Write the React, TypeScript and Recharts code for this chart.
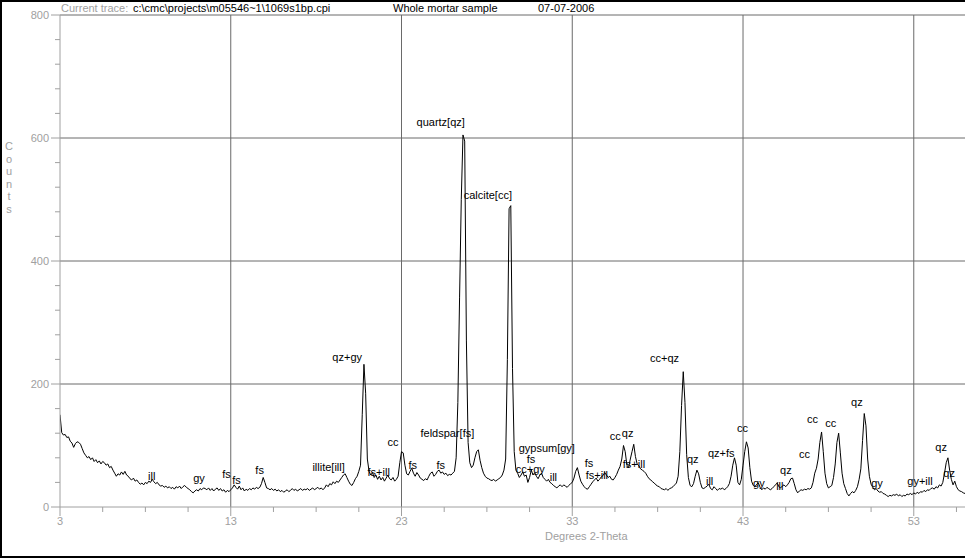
import React from 'react';
import { ComposedChart, Line, Scatter, XAxis, YAxis, ReferenceLine } from 'recharts';

// Diffraction trace, 0.1 degree steps, counts
const segmentStarts = [3, 13, 23, 33, 43];

const counts3to13 = [
  150, 121, 117, 118, 113, 114, 107, 104, 97, 103,
  106, 105, 102, 95, 88, 84, 80, 82, 77, 80,
  74, 77, 72, 75, 70, 74, 72, 68, 70, 64,
  66, 60, 55, 50, 54, 52, 57, 53, 58, 52,
  50, 46, 44, 47, 42, 44, 40, 37, 39, 36,
  40, 38, 42, 40, 45, 41, 38, 40, 36, 34,
  35, 32, 34, 31, 33, 30, 32, 29, 33, 31,
  34, 30, 33, 35, 32, 30, 28, 25, 23, 26,
  28, 26, 30, 28, 31, 30, 28, 31, 27, 30,
  26, 29, 31, 27, 30, 26, 28, 24, 27, 25,
];

const counts13to23 = [
  28, 31, 36, 32, 29, 34, 28, 31, 26, 29,
  27, 30, 28, 31, 29, 32, 30, 32, 38, 48,
  40, 31, 30, 28, 30, 27, 29, 26, 28, 25,
  27, 24, 26, 28, 25, 27, 30, 27, 29, 26,
  28, 30, 27, 29, 28, 30, 27, 29, 31, 28,
  30, 32, 29, 31, 28, 31, 36, 33, 38, 36,
  41, 38, 42, 40, 44, 48, 52, 54, 48, 42,
  37, 35, 40, 46, 50, 58, 68, 150, 232, 185,
  78, 58, 52, 56, 48, 52, 45, 50, 44, 48,
  42, 47, 52, 46, 44, 48, 42, 45, 50, 72,
];

const counts23to33 = [
  90, 88, 68, 54, 52, 58, 63, 55, 50, 56,
  52, 47, 45, 43, 46, 44, 50, 55, 57, 50,
  53, 58, 60, 55, 57, 53, 55, 51, 53, 52,
  55, 58, 80, 170, 340, 500, 605, 595, 270, 105,
  72, 64, 68, 80, 90, 93, 76, 64, 55, 50,
  47, 46, 44, 43, 45, 42, 44, 46, 48, 52,
  60, 78, 240, 485, 490, 225, 90, 60, 55, 48,
  52, 57, 50, 52, 40, 48, 60, 52, 56, 50,
  46, 52, 55, 48, 45, 42, 45, 40, 38, 35,
  33, 31, 34, 36, 33, 36, 34, 32, 35, 38,
];

const counts33to43 = [
  40, 47, 58, 64, 52, 42, 37, 33, 30, 29,
  33, 37, 41, 44, 47, 42, 45, 49, 51, 56,
  52, 48, 50, 45, 44, 48, 53, 60, 66, 78,
  100, 90, 68, 64, 78, 90, 102, 82, 70, 67,
  62, 60, 58, 55, 50, 46, 44, 41, 39, 36,
  34, 33, 30, 29, 28, 30, 27, 30, 31, 33,
  36, 39, 50, 90, 165, 220, 170, 85, 48, 35,
  33, 38, 50, 60, 54, 40, 31, 30, 32, 34,
  37, 30, 28, 33, 30, 27, 30, 29, 31, 28,
  30, 33, 38, 50, 68, 80, 68, 40, 36, 45,
];

const counts43to56 = [
  68, 90, 106, 96, 64, 42, 35, 33, 37, 39,
  32, 28, 31, 29, 32, 30, 28, 30, 33, 36,
  39, 33, 31, 34, 36, 33, 36, 40, 46, 47,
  38, 28, 23, 26, 28, 27, 29, 28, 30, 29,
  31, 40, 55, 63, 78, 105, 122, 90, 55, 38,
  31, 33, 35, 48, 70, 105, 120, 88, 55, 38,
  30, 22, 18, 22, 25, 23, 27, 33, 45, 62,
  108, 152, 132, 78, 50, 37, 32, 28, 30, 26,
  24, 25, 22, 21, 19, 17, 19, 18, 20, 19,
  21, 18, 20, 17, 19, 18, 21, 20, 22, 20,
  23, 21, 24, 22, 25, 24, 27, 25, 28, 27,
  30, 31, 29, 33, 31, 36, 34, 40, 55, 72,
  80, 60, 45, 36, 42, 33, 28, 26, 25, 23,
  22,
];

const segments = [counts3to13, counts13to23, counts23to33, counts33to43, counts43to56];

// Peak annotations
const peakLabelTexts = [
  'ill', 'gy', 'fs', 'fs', 'fs', 'illite[ill]', 'fs+ill', 'qz+gy', 'cc', 'fs',
  'fs', 'quartz[qz]', 'calcite[cc]', 'feldspar[fs]', 'gypsum[gy]', 'fs', 'cc+gy', 'ill', 'fs', 'fs+ill',
  'cc', 'qz', 'fs+ill', 'cc+qz', 'qz', 'ill', 'qz+fs', 'cc', 'gy', 'ill',
  'qz', 'cc', 'cc', 'cc', 'qz', 'gy', 'gy+ill', 'qz', 'qz',
];
const peakLabelAngles = [
  8.16, 10.8, 12.5, 13.09, 14.44, 17.78, 21.01, 18.95, 22.18, 23.41,
  25.05, 23.88, 26.64, 24.11, 29.86, 30.33, 29.69, 31.68, 33.73, 33.79,
  35.2, 35.9, 35.96, 37.55, 39.72, 40.83, 40.95, 42.65, 43.59, 44.94,
  45.17, 46.28, 46.75, 47.81, 49.33, 50.51, 52.62, 54.26, 54.73,
];
const peakLabelCounts = [
  44, 41, 47, 37, 54, 59, 50, 237, 99, 62,
  62, 620, 501, 114, 90, 71, 55, 42, 65, 45,
  109, 114, 63, 236, 72, 36, 81, 122, 33, 28,
  54, 80, 137, 130, 164, 33, 36, 91, 49,
];

const xTickValues = [3, 5.5, 8, 10.5, 13, 15.5, 18, 20.5, 23, 25.5, 28, 30.5, 33, 35.5, 38, 40.5, 43, 45.5, 48, 50.5, 53, 55.5];
const xMajorTicks = [3, 13, 23, 33, 43, 53];
const yTickValues = [0, 40, 80, 120, 160, 200, 240, 280, 320, 360, 400, 440, 480, 520, 560, 600, 640, 680, 720, 760, 800];
const yGridValues = [200, 400, 600, 800];
const xGridValues = [13, 23, 33, 43, 53];

const trace: { x: number; y: number }[] = [];
segments.forEach((seg, s) => {
  seg.forEach((c, i) => {
    trace.push({ x: Math.round((segmentStarts[s] + i * 0.1) * 10) / 10, y: c });
  });
});

const peakLabels = peakLabelTexts.map((t, i) => ({ x: peakLabelAngles[i], y: peakLabelCounts[i], text: t }));

const FONT = "'Liberation Sans', Arial, sans-serif";
const AXIS_GRAY = '#a0a0a0';
const GRID_GRAY = '#6a6a6a';

const XTick = (props: any) => {
  const { x, y, payload } = props;
  const v = payload.value;
  const major = xMajorTicks.includes(v);
  return (
    <g>
      <line x1={x} x2={x} y1={y} y2={y + (major ? 9 : 5)} stroke={AXIS_GRAY} />
      {major && (
        <text x={x} y={y + 18} textAnchor="middle" fill={AXIS_GRAY} fontSize={11} fontFamily={FONT}>
          {v}
        </text>
      )}
    </g>
  );
};

const YTick = (props: any) => {
  const { x, y, payload } = props;
  const v = payload.value;
  const major = v % 200 === 0;
  return (
    <g>
      <line x1={x - (major ? 9 : 5)} x2={x} y1={y} y2={y} stroke={AXIS_GRAY} />
      {major && (
        <text x={x - 11} y={y + 4} textAnchor="end" fill={AXIS_GRAY} fontSize={11} fontFamily={FONT}>
          {v}
        </text>
      )}
    </g>
  );
};

const LabelShape = (props: any) => {
  const { cx, cy, payload } = props;
  return (
    <text x={cx} y={cy} fill="#000" fontSize={11} fontFamily={FONT}>
      {payload.text}
    </text>
  );
};

export default function App() {
  return (
    <div style={{ position: 'absolute', left: 0, top: 0, width: 965, height: 558, background: '#fff', overflow: 'hidden' }}>
      <ComposedChart width={965} height={558} margin={{ top: 15, right: 0, bottom: 0, left: 0 }}>
        <XAxis
          type="number"
          dataKey="x"
          domain={[3, 56]}
          allowDataOverflow
          ticks={xTickValues}
          interval={0}
          height={51}
          tickSize={0}
          tickMargin={0}
          tickLine={false}
          tick={<XTick />}
          axisLine={{ stroke: AXIS_GRAY }}
        />
        <YAxis
          type="number"
          domain={[0, 800]}
          allowDataOverflow
          ticks={yTickValues}
          interval={0}
          width={60}
          tickSize={0}
          tickMargin={0}
          tickLine={false}
          tick={<YTick />}
          axisLine={{ stroke: AXIS_GRAY }}
        />
        {yGridValues.map((v) => (
          <ReferenceLine key={'h' + v} y={v} stroke={GRID_GRAY} strokeWidth={1} />
        ))}
        {xGridValues.map((v) => (
          <ReferenceLine key={'v' + v} x={v} stroke={GRID_GRAY} strokeWidth={1} />
        ))}
        <Line
          data={trace}
          dataKey="y"
          type="linear"
          stroke="#000"
          strokeWidth={1}
          dot={false}
          activeDot={false}
          isAnimationActive={false}
        />
        <Scatter data={peakLabels} dataKey="y" shape={<LabelShape />} isAnimationActive={false} />
      </ComposedChart>
      <svg width={965} height={558} style={{ position: 'absolute', left: 0, top: 0, pointerEvents: 'none' }}>
        <text x={61} y={12} fontSize={11} fontFamily={FONT} fill={AXIS_GRAY}>Current trace:</text>
        <text x={133} y={12} fontSize={11} fontFamily={FONT} fill="#000">c:\cmc\projects\m05546~1\1069s1bp.cpi</text>
        <text x={393} y={12} fontSize={11} fontFamily={FONT} fill="#000">Whole mortar sample</text>
        <text x={538} y={12} fontSize={11} fontFamily={FONT} fill="#000">07-07-2006</text>
        {['C', 'o', 'u', 'n', 't', 's'].map((ch, i) => (
          <text key={i} x={9} y={150 + i * 12.5} textAnchor="middle" fontSize={11} fontFamily={FONT} fill={AXIS_GRAY}>
            {ch}
          </text>
        ))}
        <text x={545} y={540} fontSize={11} fontFamily={FONT} fill={AXIS_GRAY}>Degrees 2-Theta</text>
      </svg>
      <div
        style={{
          position: 'absolute',
          left: 0,
          top: 0,
          width: 965,
          height: 558,
          boxSizing: 'border-box',
          borderTop: '2px solid #000',
          borderLeft: '2px solid #000',
          borderBottom: '2px solid #000',
          pointerEvents: 'none',
        }}
      />
    </div>
  );
}
